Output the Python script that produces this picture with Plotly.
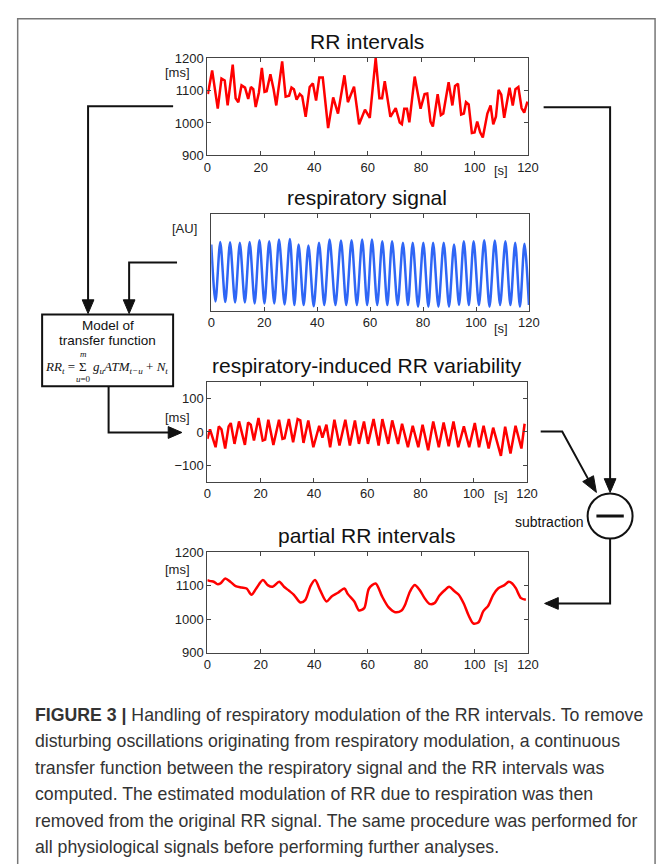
import plotly.graph_objects as go

W, H = 669, 864

# ---------------- data ----------------
rr_t = [0.2, 1.8, 3.9, 5.3, 6.5, 7.6, 9.5, 10.6, 11.6, 12.8, 14.1, 15.3, 16.3, 17.2, 18.1, 19.3,
        20.4, 21.4, 22.2, 23.6, 24.8, 25.8, 28.0, 29.3, 30.6, 31.5, 32.4, 33.4, 34.6, 35.5, 36.8,
        38.3, 39.5, 40.7, 41.9, 43.2, 45.2, 47.1, 48.9, 51.3, 52.6, 54.9, 56.8, 59.0, 60.8, 63.0,
        64.4, 65.4, 66.4, 68.5, 70.5, 72.0, 72.8, 73.7, 74.7, 75.6, 77.6, 79.8, 81.3, 82.3, 83.5,
        84.4, 86.2, 87.4, 88.3, 90.3, 91.7, 92.7, 93.8, 95.0, 96.0, 96.8, 97.8, 99.0, 100.0, 101.0,
        102.1, 103.1, 104.8, 106.0, 107.0, 108.0, 109.0, 110.0, 111.1, 112.4, 113.1, 114.3, 115.3,
        116.4, 117.6, 118.6, 119.8]
rr_v = [1089, 1162, 1044, 1137, 1131, 1054, 1180, 1076, 1064, 1116, 1109, 1074, 1111, 1104, 1049, 1094,
        1170, 1096, 1098, 1150, 1104, 1054, 1190, 1081, 1084, 1109, 1104, 1072, 1089, 1082, 1019,
        1111, 1122, 1069, 1140, 1140, 984, 1079, 1029, 1147, 1064, 1112, 996, 1041, 1016, 1200,
        1076, 1076, 1129, 1019, 1046, 1001, 996, 1044, 1044, 1002, 1143, 1044, 1089, 1091, 1004,
        989, 1089, 1024, 1029, 1126, 1054, 1114, 1121, 1026, 1029, 1064, 1057, 969, 971, 1004,
        971, 955, 1029, 1054, 996, 1019, 1102, 1087, 1016, 1084, 1109, 1054, 1104,
        1111, 1046, 1032, 1066]

resp_t = [0, 1.6, 3.4, 5.3, 7.1, 9.0, 10.8, 12.7, 14.5, 16.4, 18.2, 20.1, 21.9, 23.8, 25.6, 27.7,
          29.7, 31.4, 33.0, 34.9, 36.7, 38.7, 40.7, 42.7, 44.7, 46.9, 49.0, 51.0, 53.0, 55.0, 57.0,
          58.9, 60.7, 62.7, 64.6, 66.5, 68.3, 70.4, 72.4, 74.3, 76.1, 78.1, 80.1, 82.0, 83.8, 85.8,
          87.8, 89.8, 91.7, 93.6, 95.4, 97.3, 99.1, 101.1, 103.1, 105.1, 107.1, 109.1, 111.1, 113.0,
          114.8, 116.6, 118.3, 120.0]
resp_v = [68.7, 9.5, 71.4, 9.0, 71.1, 8.5, 70.4, 8.5, 71.4, 7.5, 73.1, 7.5, 72.1, 7.5, 73.8, 6.5,
          74.5, 5.8, 68.7, 5.8, 67.7, 4.5, 70.4, 5.8, 73.8, 5.8, 72.8, 5.8, 73.1, 5.8, 73.8, 5.8,
          73.8, 5.8, 72.1, 5.8, 72.1, 5.8, 70.4, 5.8, 70.4, 4.1, 70.4, 4.1, 70.4, 4.1, 70.4, 4.1,
          68.7, 5.8, 72.1, 5.8, 72.1, 5.8, 73.1, 4.1, 72.8, 5.8, 72.1, 5.8, 70.4, 4.1, 69.4, 5.8]

ri_t = [0, 1.0, 3.1, 4.3, 5.3, 6.7, 8.0, 8.8, 10.2, 11.9, 14.1, 15.3, 16.3, 17.5, 19.2, 20.8, 21.7,
        22.9, 24.8, 26.9, 28.2, 29.0, 30.6, 32.2, 33.9, 34.9, 36.1, 37.9, 39.8, 42.0, 43.2, 44.7,
        46.1, 47.7, 49.6, 51.8, 53.5, 55.4, 56.9, 58.8, 60.3, 62.4, 64.3, 65.7, 67.9, 69.4, 71.6,
        73.1, 75.3, 77.1, 79.2, 80.8, 82.9, 84.8, 86.9, 88.7, 90.6, 92.4, 94.2, 96.3, 98.3, 100.4,
        102.0, 103.7, 105.6, 107.3, 110.2, 111.8, 113.8, 115.7, 117.9, 119.1]
ri_v = [-21, 8, -46, 17, 8, -50, 17, 27, -36, 32, -39, 29, 22, -26, 42, -26, -23,
        37, -39, 37, -21, -19, 39, -31, 39, 35, -33, 35, -46, 19, -17, 22,
        -46, 37, -41, 37, -41, 35, -36, 32, -36, 39, -41, 39, -36, 35, -36,
        25, -46, 19, -46, 22, -55, 32, -46, 29, -43, 32, -46, 17, -46, 27,
        -46, 19, -50, 13, -72, 16, -65, 19, -50, 25]

prr_t = [0, 1.2, 2.4, 3.7, 4.9, 6.7, 8.6, 10.6, 12.8, 14.7, 16.5, 18.3, 20.8, 22.6, 24.4, 26.9,
         28.7, 30.6, 32.4, 34.8, 36.7, 38.5, 40.3, 42.2, 44.6, 46.5, 48.9, 51.3, 52.6, 55.0, 56.8,
         58.7, 60.5, 63.0, 65.4, 67.8, 70.3, 72.7, 74.0, 75.8, 77.6, 79.5, 81.3, 83.1, 85.0, 86.8,
         88.6, 90.5, 92.3, 94.1, 96.0, 97.8, 99.6, 101.5, 103.3, 105.1, 107.0, 108.8, 111.2, 112.8,
         114.1, 115.5, 117.4, 119.2]
prr_v = [1117, 1114, 1112, 1105, 1107, 1122, 1112, 1099, 1095, 1092, 1073, 1092, 1117, 1102, 1097, 1112,
         1097, 1085, 1073, 1050, 1058, 1097, 1117, 1087, 1053, 1068, 1079, 1092, 1075, 1053, 1026,
         1033, 1092, 1107, 1068, 1036, 1021, 1026, 1043, 1082, 1102, 1087, 1063, 1046, 1048, 1070,
         1085, 1097, 1085, 1073, 1046, 1011, 987, 991, 1024, 1040, 1073, 1092, 1102, 1112,
         1107, 1092, 1063, 1058]

x_ticks = [0, 20, 40, 60, 80, 100, 120]
rr_ticks = [900, 1000, 1100, 1200]
ri_ticks = [-100, 0, 100]

titles = ["RR intervals", "respiratory signal", "respiratory-induced RR variability", "partial RR intervals"]
caption_lines = [
    "<b>FIGURE 3 |</b> Handling of respiratory modulation of the RR intervals. To remove",
    "disturbing oscillations originating from respiratory modulation, a continuous",
    "transfer function between the respiratory signal and the RR intervals was",
    "computed. The estimated modulation of RR due to respiration was then",
    "removed from the original RR signal. The same procedure was performed for",
    "all physiological signals before performing further analyses.",
]

# ---------------- helpers ----------------
def px(x):
    return x / W

def py(y):
    return 1 - y / H

RED = "#ff0000"
BLUE = "#2f66f5"
FONT = "Liberation Sans"

# panel boxes in pixels: (x0, x1, ytop, ybottom)
panels = [(208, 536, 52, 151), (212, 537, 211, 309), (208, 535, 382, 483), (208, 536, 555, 657)]

fig = go.Figure()
series = [(rr_t, rr_v, RED, "linear"), (resp_t, resp_v, BLUE, "spline"),
          (ri_t, ri_v, RED, "linear"), (prr_t, prr_v, RED, "spline")]
for i, (t, v, c, shp) in enumerate(series):
    sfx = "" if i == 0 else str(i + 1)
    fig.add_trace(go.Scatter(x=t, y=v, mode="lines", line=dict(color=c, width=2.5, shape=shp, smoothing=0.8),
                             xaxis="x" + sfx, yaxis="y" + sfx, showlegend=False, hoverinfo="skip"))

layout = dict(width=W, height=H, margin=dict(l=0, r=0, t=0, b=0), paper_bgcolor="white",
              plot_bgcolor="white", showlegend=False, font=dict(family=FONT, color="#222"))

yranges = [[900, 1200], [0, 100], [-150, 150], [900, 1200]]
yticks = [rr_ticks, [], ri_ticks, rr_ticks]
for i, (x0, x1, yt, yb) in enumerate(panels):
    sfx = "" if i == 0 else str(i + 1)
    layout["xaxis" + sfx] = dict(domain=[px(x0), px(x1)], anchor="y" + sfx, range=[0, 120],
                                 tickvals=x_ticks, ticks="inside", ticklen=4, tickcolor="#444",
                                 showline=True, linecolor="#444", linewidth=1, mirror="allticks",
                                 showgrid=False, zeroline=False, tickfont=dict(size=13, color="#222"))
    layout["yaxis" + sfx] = dict(domain=[py(yb), py(yt)], anchor="x" + sfx, range=yranges[i],
                                 tickvals=yticks[i], ticks="inside" if yticks[i] else "",
                                 ticklen=4, tickcolor="#444", showticklabels=bool(yticks[i]),
                                 showline=True, linecolor="#444", linewidth=1, mirror="allticks",
                                 showgrid=False, zeroline=False, tickfont=dict(size=13, color="#222"))

def note(text, x, y, size, anchor="center", family=None, color="#111"):
    f = dict(size=size, color=color)
    if family:
        f["family"] = family
    return dict(text=text, x=px(x), y=py(y), xref="paper", yref="paper", showarrow=False,
                xanchor=anchor, yanchor="middle", font=f)

ann = []
title_y = [35, 194, 365, 538]
for i, tt in enumerate(titles):
    ann.append(note(tt, 371, title_y[i], 21))

unit_labels = [("[ms]", 177, 67), ("[AU]", 185, 225), ("[ms]", 177, 418), ("[ms]", 177, 572),
               ("[s]", 508, 166), ("[s]", 508, 327), ("[s]", 508, 497), ("[s]", 508, 669)]
for txt, x, y in unit_labels:
    ann.append(note(txt, x, y, 13, color="#222"))

# model box text
ann.append(note("Model of", 106, 324, 13.5))
ann.append(note("transfer function", 106, 339, 13.5))
SERIF = "Liberation Serif"
ann.append(note("<i>RR<sub>t</sub></i> =", 75, 367, 13, anchor="right", family=SERIF))
ann.append(note("Σ", 81, 366, 13, family=SERIF))
ann.append(note("<i>m</i>", 81, 353, 9, family=SERIF))
ann.append(note("<i>u</i>=0", 81, 379, 9, family=SERIF))
ann.append(note("<i>g<sub>u</sub>ATM<sub>t−u</sub></i> + <i>N<sub>t</sub></i>", 89, 367, 13,
                anchor="left", family=SERIF))

ann.append(note("subtraction", 594, 524, 14, anchor="right"))

cap_y = [720, 747, 774, 801, 828, 855]
for line, y in zip(caption_lines, cap_y):
    ann.append(note(line, 30, y, 17.7, anchor="left", family=FONT, color="#333"))

layout["annotations"] = ann

# ---------------- diagram shapes ----------------
shapes = []
LW = 2
BLK = "#111"

def polyline(pts, width=LW, color=BLK):
    d = "M " + " L ".join(f"{px(x)},{py(y)}" for x, y in pts)
    shapes.append(dict(type="path", path=d, xref="paper", yref="paper", line=dict(color=color, width=width)))

def tri(pts):
    d = "M " + " L ".join(f"{px(x)},{py(y)}" for x, y in pts) + " Z"
    shapes.append(dict(type="path", path=d, xref="paper", yref="paper", fillcolor=BLK,
                       line=dict(color=BLK, width=1)))

# outer frame
shapes.append(dict(type="rect", x0=px(14), x1=px(666), y0=py(12), y1=py(880), xref="paper", yref="paper",
                   line=dict(color="#777", width=1.5)))
# model box
shapes.append(dict(type="rect", x0=px(39), x1=px(173), y0=py(313), y1=py(386), xref="paper", yref="paper",
                   line=dict(color=BLK, width=2)))
# arrow from RR to model
polyline([(173, 101), (86, 101), (86, 300)])
tri([(80, 298), (92, 298), (86, 312)])
# arrow from respiratory to model
polyline([(177, 260), (128, 260), (128, 300)])
tri([(122, 298), (134, 298), (128, 312)])
# model to respiratory-induced
polyline([(107, 386), (107, 433), (170, 433)])
tri([(168, 427), (168, 439), (182, 433)])
# RR to subtraction
polyline([(552, 102), (620, 102), (620, 482)])
tri([(614, 480), (626, 480), (620, 494)])
# resp-induced to subtraction
polyline([(549, 432), (571, 432), (599, 483)])
tri([(592, 483), (603, 477), (606, 494)])
# subtraction circle
shapes.append(dict(type="circle", x0=px(597), x1=px(643), y0=py(495), y1=py(541), xref="paper", yref="paper",
                   line=dict(color=BLK, width=2)))
polyline([(606, 518), (634, 518)], width=3)
# subtraction to partial RR
polyline([(620, 541), (620, 607), (566, 607)])
tri([(567, 601), (567, 613), (553, 607)])

layout["shapes"] = shapes
fig.update_layout(**layout)
fig.write_html("out.html")
